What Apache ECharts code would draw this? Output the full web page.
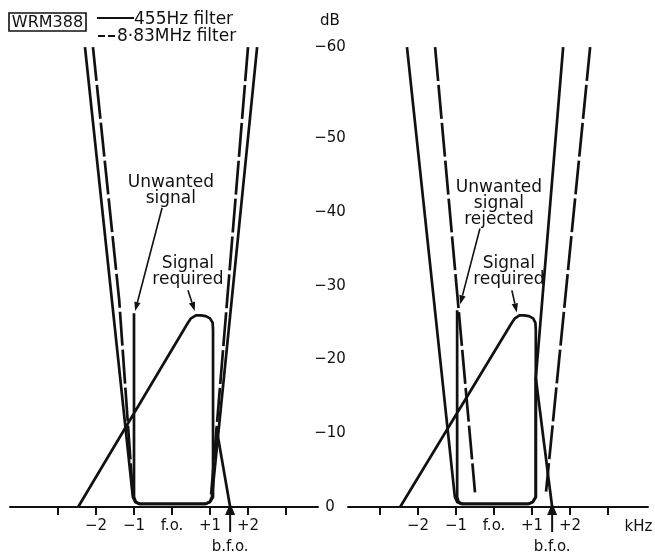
<!DOCTYPE html>
<html><head><meta charset="utf-8">
<script src="https://cdn.jsdelivr.net/npm/echarts@6/dist/echarts.min.js"></script>
<style>html,body{margin:0;padding:0;background:#fff}#c{width:655px;height:555px}</style>
</head><body><div id="c"></div>
<script>
// ---- axis ticks / labels ----
const xTickValues = [-3, -2, -1, 0, 1, 2, 3];
const xLabelValues = [-2, -1, 0, 1, 2];
const xLabelText = ['−2', '−1', 'f.o.', '+1', '+2'];
// the drawing's top (where the walls end) is marked −60
const yTickValues = [0, 10, 20, 30, 40, 50, 62.4];
const yLabelText = ['0', '−10', '−20', '−30', '−40', '−50', '−60'];

// ---- left panel (both filters aligned) ----
const signalLeftK  = [-2.47, 0.42, 0.5, 0.63, 0.76, 0.89, 1.0, 1.07, 1.08, 1.08, 1.0, 0.87, -0.84, -0.95, -1.0, -1.0];
const signalLeftDb = [0, 25.0, 25.6, 26.0, 26.0, 25.9, 25.6, 25.0, 24.0, 1.35, 0.68, 0.42, 0.42, 0.68, 1.35, 26.3];
const solidLeftK   = [-2.29, -1.03, -0.97, -0.86, 0.88, 0.99, 1.05, 2.24];
const solidLeftDb  = [62.4, 1.35, 0.68, 0.42, 0.42, 0.68, 1.35, 62.4];
const dashLeftAK   = [-2.08, -1.39, -1.03];
const dashLeftADb  = [62.4, 28.1, 1.7];
const dashLeftBK   = [2.0, 1.03];
const dashLeftBDb  = [62.4, 1.7];
const bfoLeftK     = [1.53, 1.17];
const bfoLeftDb    = [0, 10.7];

// ---- right panel (8.83MHz filter shifted) ----
const signalRightK  = [-2.47, 0.47, 0.55, 0.67, 0.79, 0.92, 1.03, 1.09, 1.1, 1.1, 1.02, 0.9, -0.82, -0.93, -0.97, -0.97];
const signalRightDb = [0, 25.0, 25.6, 26.0, 26.0, 25.9, 25.6, 25.0, 24.0, 1.35, 0.68, 0.42, 0.42, 0.68, 1.35, 26.7];
const solidRightK   = [-2.29, -1.03, -0.97, -0.86, 0.9, 1.02, 1.1, 1.1, 1.82];
const solidRightDb  = [62.4, 1.35, 0.68, 0.42, 0.42, 0.68, 1.35, 17.5, 62.4];
const dashRightAK   = [-1.55, -0.5];
const dashRightADb  = [62.4, 2.0];
const dashRightBK   = [2.53, 1.37];
const dashRightBDb  = [62.4, 2.1];
const bfoRightK     = [1.53, 1.1];
const bfoRightDb    = [0, 17.5];

const bfoK = 1.53;

// annotations [k, dB]
const annLeft = [
  {text: 'Unwanted\nsignal', at: [-0.03, 42.9], from: [-0.26, 40.6], to: [-0.97, 26.6]},
  {text: 'Signal\nrequired', at: [0.42, 32.0], from: [0.42, 29.4], to: [0.6, 26.6]}
];
const annRight = [
  {text: 'Unwanted\nsignal\nrejected', at: [0.13, 41.2], from: [-0.37, 37.8], to: [-0.89, 27.5]},
  {text: 'Signal\nrequired', at: [0.39, 31.9], from: [0.47, 29.4], to: [0.6, 26.4]}
];

const FONT = 'DejaVu Sans';
const INK = '#111';
const Y_MAX = 62.69;
const pairs = (ks, ds) => ks.map((k, i) => [k, ds[i]]);

const chart = echarts.init(document.getElementById('c'));

function xAxisFor(gi, min, max) {
  return {
    type: 'value', gridIndex: gi, min: min, max: max,
    axisLine: {show: true, onZero: false, lineStyle: {color: INK, width: 2}},
    axisTick: {show: true, inside: false, length: 8, customValues: xTickValues, lineStyle: {color: INK, width: 2}},
    axisLabel: {show: true, customValues: xLabelValues, margin: 12, color: INK, fontFamily: FONT, fontSize: 15,
      formatter: v => xLabelText[xLabelValues.indexOf(Math.round(v))]},
    splitLine: {show: false}
  };
}

function lineSeries(gi, data, dashed) {
  return {
    type: 'line', xAxisIndex: gi, yAxisIndex: gi, data: data, showSymbol: false, symbol: 'none',
    silent: true, animation: false, clip: false,
    lineStyle: {color: INK, width: 2.7, type: dashed ? [34, 4] : 'solid', cap: 'butt', join: 'round'}
  };
}

chart.setOption({
  animation: false,
  backgroundColor: '#fff',
  grid: [
    {left: 10, width: 308, top: 45, height: 462},
    {left: 348, width: 300, top: 45, height: 462}
  ],
  xAxis: [xAxisFor(0, -162 / 38, 146 / 38), xAxisFor(1, -146 / 38, 154 / 38)],
  yAxis: [
    {type: 'value', gridIndex: 0, position: 'right', min: 0, max: Y_MAX,
      axisLine: {show: false}, axisTick: {show: false}, splitLine: {show: false},
      axisLabel: {show: true, customValues: yTickValues, align: 'center', margin: 12, color: INK,
        fontFamily: FONT, fontSize: 15,
        formatter: v => yLabelText[yTickValues.findIndex(t => Math.abs(t - v) < 0.01)]}},
    {type: 'value', gridIndex: 1, min: 0, max: Y_MAX, show: false}
  ],
  series: [
    lineSeries(0, pairs(signalLeftK, signalLeftDb), false),
    lineSeries(0, pairs(solidLeftK, solidLeftDb), false),
    lineSeries(0, pairs(dashLeftAK, dashLeftADb), true),
    lineSeries(0, pairs(dashLeftBK, dashLeftBDb), true),
    lineSeries(0, pairs(bfoLeftK, bfoLeftDb), false),
    lineSeries(1, pairs(signalRightK, signalRightDb), false),
    lineSeries(1, pairs(solidRightK, solidRightDb), false),
    lineSeries(1, pairs(dashRightAK, dashRightADb), true),
    lineSeries(1, pairs(dashRightBK, dashRightBDb), true),
    lineSeries(1, pairs(bfoRightK, bfoRightDb), false)
  ]
});

function arrowEls(gi, from, to) {
  const a = chart.convertToPixel({gridIndex: gi}, from);
  const b = chart.convertToPixel({gridIndex: gi}, to);
  const dx = b[0] - a[0], dy = b[1] - a[1], L = Math.hypot(dx, dy), ux = dx / L, uy = dy / L;
  const hl = 9, hw = 3.2;
  const bx = b[0] - ux * hl, by = b[1] - uy * hl;
  return [
    {type: 'line', shape: {x1: a[0], y1: a[1], x2: bx, y2: by}, style: {stroke: INK, lineWidth: 1.6}},
    {type: 'polygon', shape: {points: [[b[0], b[1]], [bx - uy * hw, by + ux * hw], [bx + uy * hw, by - ux * hw]]}, style: {fill: INK}}
  ];
}
function textEl(x, y, text, size, align) {
  return {type: 'text', x: x, y: y, style: {text: text, font: size + 'px "' + FONT + '"', fill: INK,
    align: align || 'center', verticalAlign: 'middle', lineHeight: Math.round(size * 0.95)}};
}

const els = [];
[[0, annLeft], [1, annRight]].forEach(([gi, list]) => {
  list.forEach(a => {
    const p = chart.convertToPixel({gridIndex: gi}, a.at);
    els.push(textEl(p[0], p[1], a.text, 17));
    els.push(...arrowEls(gi, a.from, a.to));
  });
  const q = chart.convertToPixel({gridIndex: gi}, [bfoK, 0]);
  els.push({type: 'line', shape: {x1: q[0], y1: q[1], x2: q[0], y2: q[1] + 25}, style: {stroke: INK, lineWidth: 2}});
  els.push({type: 'polygon', shape: {points: [[q[0], q[1] - 4], [q[0] - 5, q[1] + 8], [q[0] + 5, q[1] + 8]]}, style: {fill: INK}});
  els.push(textEl(q[0], q[1] + 40, 'b.f.o.', 15));
});

// header texts / legend
els.push({type: 'rect', shape: {x: 9, y: 13, width: 77, height: 18}, style: {fill: 'none', stroke: INK, lineWidth: 1.6}});
els.push(textEl(47.5, 22.5, 'WRM388', 16));
els.push({type: 'line', shape: {x1: 97, y1: 18, x2: 134, y2: 18}, style: {stroke: INK, lineWidth: 2}});
els.push(textEl(134, 20, '455Hz filter', 17, 'left'));
els.push({type: 'line', shape: {x1: 98, y1: 36, x2: 117, y2: 36}, style: {stroke: INK, lineWidth: 2, lineDash: [7, 3]}});
els.push(textEl(117, 37, '8·83MHz filter', 17, 'left'));
els.push(textEl(330, 21, 'dB', 15));
const kq = chart.convertToPixel({gridIndex: 1}, [3.8, 0]);
els.push(textEl(kq[0], kq[1] + 20, 'kHz', 15));

chart.setOption({graphic: {elements: els}});
</script>
</body></html>
